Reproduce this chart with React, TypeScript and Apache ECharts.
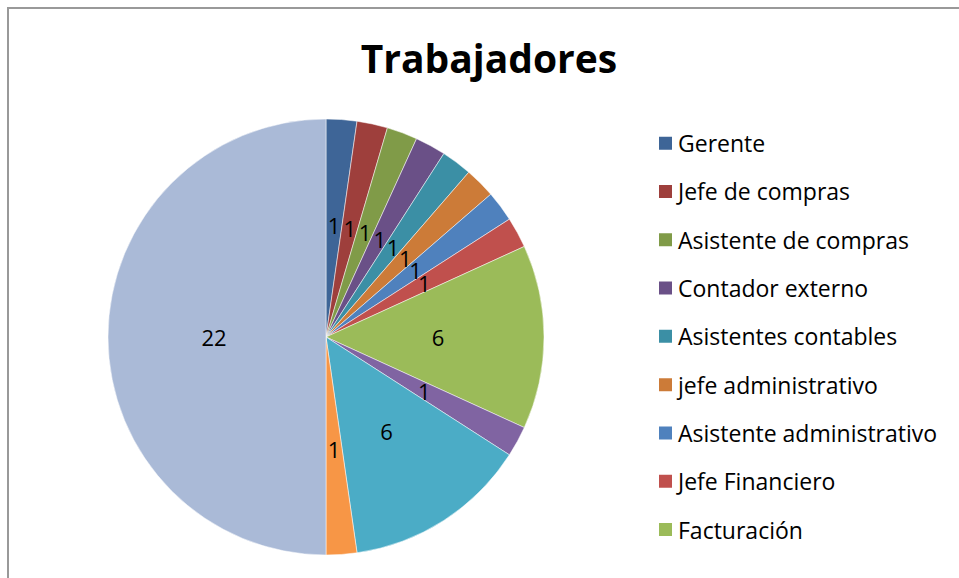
import React, { useEffect, useRef } from "react";
import * as echarts from "echarts";

const categories = [
  "Gerente",
  "Jefe de compras",
  "Asistente de compras",
  "Contador externo",
  "Asistentes contables",
  "jefe administrativo",
  "Asistente administrativo",
  "Jefe Financiero",
  "Facturación",
  "Cobranza",
  "Ventas",
  "Bodega",
  "Operarios",
];
const values = [1, 1, 1, 1, 1, 1, 1, 1, 6, 1, 6, 1, 22];
const colors = [
  "#3E6597",
  "#9E3F3C",
  "#809B48",
  "#6A5087",
  "#3B8FA5",
  "#CC7B38",
  "#4F81BD",
  "#C0504D",
  "#9BBB59",
  "#8064A2",
  "#4BACC6",
  "#F79646",
  "#AABAD7",
];
const legendShown = categories.slice(0, 9);
const title = "Trabajadores";

export default function App() {
  const ref = useRef<HTMLDivElement>(null);
  useEffect(() => {
    if (!ref.current) return;
    const chart = echarts.init(ref.current, undefined, { renderer: "svg" });
    const font = "'Open Sans', 'Noto Sans', sans-serif";
    chart.setOption({
      animation: false,
      backgroundColor: "#ffffff",
      color: colors,
      title: {
        text: title,
        left: 484,
        top: 33,
        textAlign: "center",
        textStyle: { fontFamily: font, fontSize: 39, fontWeight: "bold", color: "#000" },
      },
      legend: {
        orient: "vertical",
        left: 657,
        top: 130,
        padding: 0,
        itemWidth: 15,
        itemHeight: 15,
        itemGap: 22,
        icon: "rect",
        data: legendShown,
        textStyle: { fontFamily: font, fontSize: 23, color: "#000", lineHeight: 26.3 },
      },
      graphic: [
        {
          type: "rect",
          shape: { x: 8, y: 8, width: 1200, height: 1000 },
          style: { fill: "none", stroke: "#999", lineWidth: 2 },
          silent: true,
        },
      ],
      series: [
        {
          type: "pie",
          center: [326, 337],
          radius: 218,
          startAngle: 90,
          clockwise: true,
          avoidLabelOverlap: false,
          labelLayout: { hideOverlap: false },
          itemStyle: { borderColor: "#ffffff", borderWidth: 0.5 },
          label: {
            show: true,
            position: "inside",
            formatter: "{c}",
            fontFamily: font,
            fontSize: 22,
            color: "#000",
          },
          labelLine: { show: false },
          emphasis: { disabled: true },
          data: categories.map((n, i) => ({ name: n, value: values[i] })),
        },
      ],
    });
    return () => chart.dispose();
  }, []);
  return (
    <div
      ref={ref}
      style={{ position: "fixed", left: 0, top: 0, width: 959, height: 578 }}
    />
  );
}
